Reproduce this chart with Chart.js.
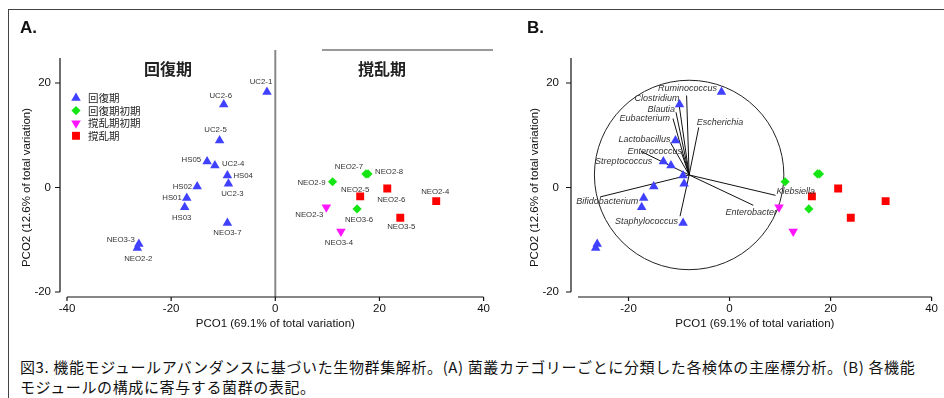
<!DOCTYPE html>
<html>
<head>
<meta charset="utf-8">
<script src="https://cdn.jsdelivr.net/npm/chart.js@4.4.0/dist/chart.umd.min.js"></script>
<style>
  body { margin: 0; background: #fff; width: 944px; height: 398px; overflow: hidden; position: relative; font-family: 'Liberation Sans', Arial, sans-serif; }
  #frame { position: absolute; left: 8px; top: 9px; right: 0; bottom: 0; border-left: 1.5px solid #444; border-top: 1.5px solid #444; }
  canvas { position: absolute; top: 0; }
  .tag { position: absolute; top: 18px; font-weight: bold; font-size: 17px; color: #111; }
  .hdr { position: absolute; top: 56px; width: 80px; text-align: center; line-height: 20px; font: bold 16px 'Noto Sans CJK JP', sans-serif; color: #222; }
  #cap { position: absolute; left: 20px; top: 357px; font: 15px 'Noto Sans CJK JP', sans-serif; line-height: 20px; letter-spacing: 0.62px; color: #111; white-space: nowrap; }
</style>
</head>
<body>
<div id="frame"></div>
<canvas id="chartA" width="500" height="340" style="left:0"></canvas>
<canvas id="chartB" width="444" height="340" style="left:504px"></canvas>
<div class="tag" style="left:20px">A.</div>
<div class="tag" style="left:527px">B.</div>
<div class="hdr" style="left:128px">回復期</div>
<div class="hdr" style="left:342px">撹乱期</div>
<div id="cap">図3. 機能モジュールアバンダンスに基づいた生物群集解析。(A) 菌叢カテゴリーごとに分類した各検体の主座標分析。(B) 各機能<br>モジュールの構成に寄与する菌群の表記。</div>

<script>
// axis ticks
const tickXA = [-40, -20, 0, 20, 40];
const tickXB = [-20, 0, 20, 40];
const tickY = [-20, 0, 20];

// 回復期
const recNames = ['UC2-1', 'UC2-6', 'UC2-5', 'HS05', 'UC2-4', 'HS04', 'UC2-3', 'HS02', 'HS01', 'HS03', 'NEO3-7', 'NEO3-3', 'NEO2-2'];
const recX = [-1.6, -9.9, -10.7, -13.1, -11.6, -9.2, -9.0, -15.0, -17.0, -17.4, -9.2, -26.2, -26.5];
const recY = [18.3, 15.9, 9.0, 5.0, 4.2, 2.3, 0.7, 0.2, -2.0, -3.8, -6.8, -10.8, -11.6];

// 回復期初期
const earlyRecNames = ['NEO2-7', 'NEO2-8', 'NEO2-9', 'NEO3-6'];
const earlyRecX = [17.4, 17.8, 11.0, 15.7];
const earlyRecY = [2.6, 2.6, 1.1, -4.1];

// 撹乱期初期
const earlyDisNames = ['NEO2-3', 'NEO3-4'];
const earlyDisX = [9.8, 12.6];
const earlyDisY = [-3.8, -8.4];

// 撹乱期
const disNames = ['NEO2-5', 'NEO2-6', 'NEO2-4', 'NEO3-5'];
const disX = [16.3, 21.5, 30.9, 24.0];
const disY = [-1.7, -0.2, -2.6, -5.8];

// panel B: genus vectors
const genera = ['Ruminococcus', 'Clostridium', 'Blautia', 'Eubacterium', 'Escherichia', 'Lactobacillus',
  'Enterococcus', 'Streptococcus', 'Bifidobacterium', 'Staphylococcus', 'Klebsiella', 'Enterobacter'];
const vecX = [-8.5, -10.1, -10.6, -11.2, -6.1, -11.7, -9.6, -17.5, -25.6, -9.8, 9.1, 4.7];
const vecY = [17.6, 16.6, 14.4, 13.2, 11.5, 8.6, 6.9, 6.9, -1.8, -5.5, -1.5, -3.4];
const vecOrigin = [-8.0, 2.4];
const circleRadius = 18.75;

// label placement (pixel offsets from the mark, text align)
const sampleLabelPos = {
  'UC2-1': [-6, -10, 'center'], 'UC2-6': [-3, -9, 'center'], 'UC2-5': [-4, -11, 'center'],
  'HS05': [-6, -2, 'right'], 'UC2-4': [7, -2, 'left'], 'HS04': [6, 0, 'left'],
  'UC2-3': [4, 10, 'center'], 'HS02': [-5, 0, 'right'], 'HS01': [-5, 0, 'right'],
  'HS03': [-3, 10, 'center'], 'NEO3-7': [0, 10, 'center'], 'NEO3-3': [-4, -4, 'right'],
  'NEO2-2': [1, 11, 'center'], 'NEO2-7': [-17, -7, 'center'], 'NEO2-8': [7, -2, 'left'],
  'NEO2-9': [-7, 1, 'right'], 'NEO3-6': [2, 11, 'center'], 'NEO2-3': [-17, 7, 'center'],
  'NEO3-4': [-2, 11, 'center'], 'NEO2-5': [-5, -7, 'center'], 'NEO2-6': [4, 11, 'center'],
  'NEO2-4': [-1, -9, 'center'], 'NEO3-5': [1, 9, 'center']
};
const genusLabelPos = {
  'Ruminococcus': [1, -7, 'center'], 'Clostridium': [1, -2, 'right'], 'Blautia': [-1, -3, 'right'],
  'Eubacterium': [-3, 0, 'right'], 'Escherichia': [-2, -5, 'left'], 'Lactobacillus': [0, -3, 'right'],
  'Enterococcus': [1, 0, 'right'], 'Streptococcus': [11, 10, 'right'], 'Bifidobacterium': [7, 5, 'center'],
  'Staphylococcus': [-2, 5, 'right'], 'Klebsiella': [1, -4, 'left'], 'Enterobacter': [-2, 7, 'center']
};

const FONT = "'Liberation Sans', Arial, sans-serif";
const pts = (xs, ys) => xs.map((x, i) => ({ x: x, y: ys[i] }));

const groups = [
  { label: '回復期', names: recNames, data: pts(recX, recY), style: 'triangle', r: 5.5, rot: 0, color: '#4040ff' },
  { label: '回復期初期', names: earlyRecNames, data: pts(earlyRecX, earlyRecY), style: 'rectRot', r: 4.6, rot: 0, color: '#14e614' },
  { label: '撹乱期初期', names: earlyDisNames, data: pts(earlyDisX, earlyDisY), style: 'triangle', r: 5.5, rot: 180, color: '#ff14ff' },
  { label: '撹乱期', names: disNames, data: pts(disX, disY), style: 'rect', r: 5.6, rot: 0, color: '#ff0000' }
];

function pointSets() {
  return groups.map(g => ({
    label: g.label, names: g.names, data: g.data,
    pointStyle: g.style, pointRadius: g.r, pointRotation: g.rot,
    backgroundColor: g.color, pointBackgroundColor: g.color, borderWidth: 0, pointBorderWidth: 0,
    showLine: false
  }));
}

// detached axis lines like the original
const axesLines = {
  id: 'axesLines',
  afterDraw(chart, args, o) {
    const { ctx, chartArea: a, scales: { x, y } } = chart;
    const ax = a.left - 7, ay = a.bottom + 5;
    ctx.save();
    ctx.strokeStyle = '#111';
    ctx.lineWidth = 1.2;
    ctx.beginPath();
    ctx.moveTo(ax, o.topY);
    ctx.lineTo(ax, y.getPixelForValue(y.min));
    y.ticks.forEach(t => { const py = y.getPixelForValue(t.value); ctx.moveTo(ax - 5, py); ctx.lineTo(ax, py); });
    ctx.moveTo(x.getPixelForValue(x.min), ay);
    ctx.lineTo(x.getPixelForValue(x.max), ay);
    x.ticks.forEach(t => { const px = x.getPixelForValue(t.value); ctx.moveTo(px, ay); ctx.lineTo(px, ay + 4); });
    ctx.stroke();
    ctx.restore();
  }
};

function scaleOpts(xMin, xMax, xTicks, yWidth, yPad, yTitlePad) {
  return {
    x: {
      type: 'linear', min: xMin, max: xMax,
      afterBuildTicks: s => { s.ticks = xTicks.map(v => ({ value: v })); },
      afterFit: s => { s.height = 48; },
      grid: { display: false, drawTicks: false }, border: { display: false },
      ticks: { padding: 10, color: '#111', font: { size: 11.5, family: FONT } },
      title: { display: true, text: 'PCO1 (69.1% of total variation)', color: '#111',
        font: { size: 11.5, family: FONT }, padding: { top: 0, bottom: 9 } }
    },
    y: {
      type: 'linear', min: -20, max: 20,
      afterBuildTicks: s => { s.ticks = tickY.map(v => ({ value: v })); },
      afterFit: s => { s.width = yWidth; },
      grid: { display: false, drawTicks: false }, border: { display: false },
      ticks: { padding: yPad, color: '#111', font: { size: 11.5, family: FONT } },
      title: { display: true, text: 'PCO2 (12.6% of total variation)', color: '#111',
        font: { size: 11.5, family: FONT }, padding: { top: yTitlePad, bottom: 0 } }
    }
  };
}

const baseOpts = {
  responsive: false, animation: false, events: [],
  plugins: { legend: { display: false }, tooltip: { enabled: false }, axesLines: { topY: 58 } }
};

// panel A extras: zero line, header rule, legend, sample labels
const panelA = {
  id: 'panelA',
  beforeDatasetsDraw(chart) {
    const { ctx, chartArea: a, scales: { x } } = chart;
    ctx.save();
    ctx.strokeStyle = '#888';
    ctx.lineWidth = 2;
    const x0 = x.getPixelForValue(0);
    ctx.beginPath(); ctx.moveTo(x0, 50); ctx.lineTo(x0, a.bottom + 5); ctx.stroke();
    ctx.lineWidth = 1.3;
    ctx.strokeStyle = '#777';
    ctx.beginPath(); ctx.moveTo(322, 50); ctx.lineTo(493, 50); ctx.stroke();
    ctx.restore();
  },
  afterDatasetsDraw(chart) {
    const ctx = chart.ctx;
    ctx.save();
    ctx.textBaseline = 'middle';
    ctx.font = '7.8px ' + FONT;
    ctx.fillStyle = '#333';
    chart.data.datasets.forEach((ds, di) => {
      const meta = chart.getDatasetMeta(di);
      meta.data.forEach((el, i) => {
        const p = sampleLabelPos[ds.names[i]];
        ctx.textAlign = p[2];
        ctx.fillText(ds.names[i], el.x + p[0], el.y + p[1]);
      });
    });
    // legend
    groups.forEach((g, i) => {
      const ly = 98 + i * 12.6;
      ctx.fillStyle = g.color;
      Chart.helpers.drawPoint(ctx, { pointStyle: g.style, radius: g.r, rotation: g.rot, borderWidth: 0 }, 76, ly);
      ctx.fillStyle = '#222';
      ctx.textAlign = 'left';
      ctx.font = "10.5px 'Noto Sans CJK JP', sans-serif";
      ctx.fillText(g.label, 88, ly);
    });
    ctx.restore();
  }
};

new Chart('chartA', {
  type: 'scatter',
  data: { datasets: pointSets() },
  options: Object.assign({}, baseOpts, {
    layout: { padding: { top: 83, right: 15, bottom: 0, left: 0 } },
    scales: scaleOpts(-40, 40, tickXA, 67, 16, 20)
  }),
  plugins: [axesLines, panelA]
});

// panel B extras: correlation circle and genus labels
const panelB = {
  id: 'panelB',
  beforeDatasetsDraw(chart) {
    const { ctx, scales: { x, y } } = chart;
    const cx = x.getPixelForValue(vecOrigin[0]), cy = y.getPixelForValue(vecOrigin[1]);
    const r = circleRadius * (x.getPixelForValue(1) - x.getPixelForValue(0));
    ctx.save();
    ctx.strokeStyle = '#222';
    ctx.lineWidth = 1;
    ctx.beginPath(); ctx.arc(cx, cy, r, 0, Math.PI * 2); ctx.stroke();
    ctx.restore();
  },
  afterDatasetsDraw(chart) {
    const ctx = chart.ctx;
    ctx.save();
    ctx.textBaseline = 'middle';
    ctx.font = 'italic 9px ' + FONT;
    ctx.fillStyle = '#333';
    chart.data.datasets.forEach((ds, di) => {
      if (!ds.genus) return;
      const el = chart.getDatasetMeta(di).data[1];
      const p = genusLabelPos[ds.genus];
      ctx.textAlign = p[2];
      ctx.fillText(ds.genus, el.x + p[0], el.y + p[1]);
    });
    ctx.restore();
  }
};

const vectorSets = genera.map((g, i) => ({
  genus: g,
  data: [{ x: vecOrigin[0], y: vecOrigin[1] }, { x: vecX[i], y: vecY[i] }],
  showLine: true, borderColor: '#111', borderWidth: 1, pointRadius: 0
}));

new Chart('chartB', {
  type: 'scatter',
  data: { datasets: pointSets().concat(vectorSets) },
  options: Object.assign({}, baseOpts, {
    layout: { padding: { top: 83, right: 6, bottom: 0, left: 0 } },
    scales: scaleOpts(-30, 40, tickXB, 74, 19, 24)
  }),
  plugins: [axesLines, panelB]
});
</script>
</body>
</html>
